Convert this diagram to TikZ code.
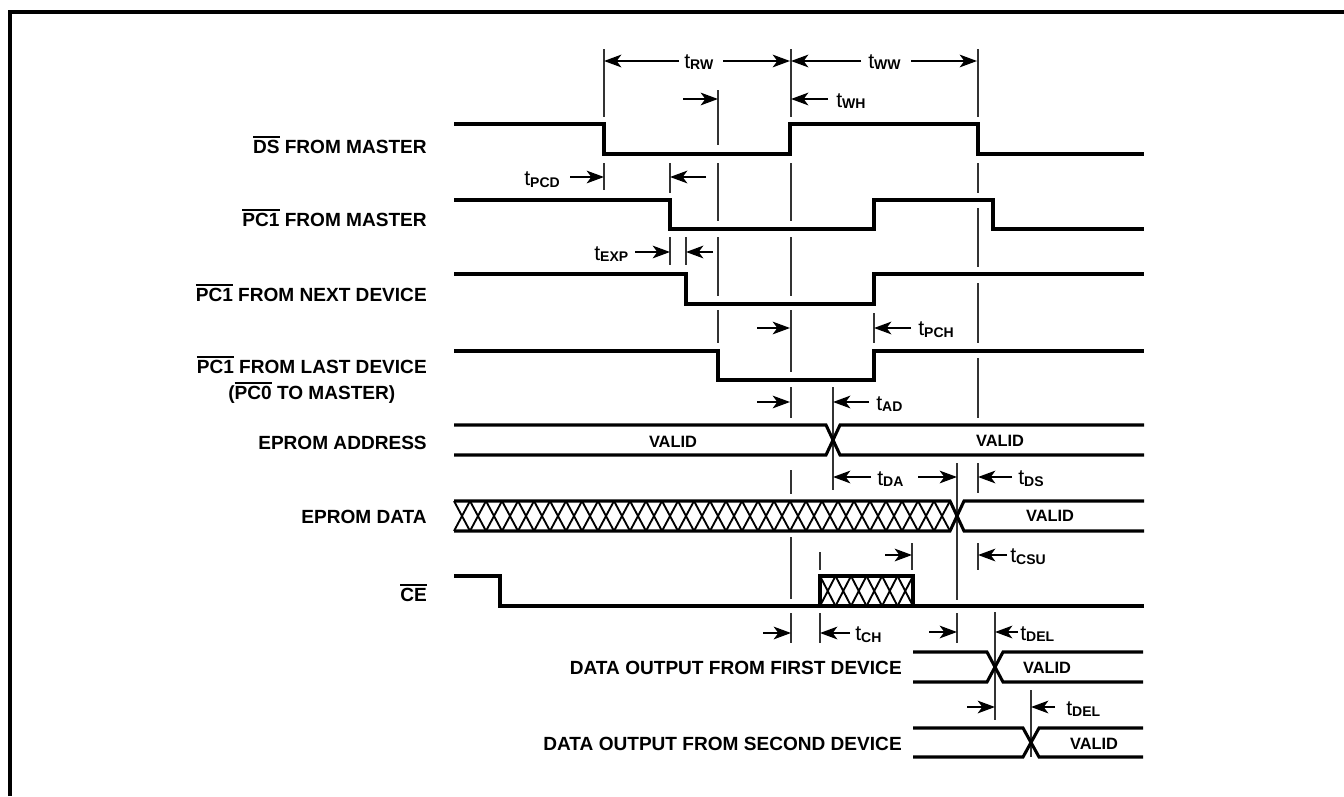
\documentclass[tikz,border=0pt]{standalone}
\usepackage{fontspec}
\setmainfont{Liberation Sans}
\usetikzlibrary{arrows.meta}
\newcommand{\ovl}[1]{\leavevmode\vbox{\hrule height 1.3pt\kern 1.6pt\hbox{#1}}}
\newcommand{\tlab}[1]{{\fontsize{16}{16}\selectfont t}\raisebox{-1.3pt}{\fontsize{10.5}{10.5}\selectfont\bfseries #1}}
\tikzset{
  sig/.style={line width=2.3pt, line join=miter, line cap=butt},
  refl/.style={line width=0.9pt, black!80},
  dimarrow/.style={line width=1.4pt, -{Stealth[length=13pt,width=9.5pt,inset=3.5pt]}},
  hatch/.style={line width=1.4pt},
  sigtext/.style={font=\fontsize{14.3}{19.5}\selectfont\bfseries, inner sep=0pt, anchor=east},
  validtext/.style={font=\fontsize{12.3}{12.3}\selectfont\bfseries, inner sep=0pt},
  tl/.style={inner sep=0pt, anchor=west}
}
\begin{document}
\begin{tikzpicture}[x=0.75pt,y=-0.75pt]
\useasboundingbox (0,0) rectangle (1344,796);
% frame
\draw[line width=2.6pt] (10,796) -- (10,12) -- (1344,12);

% reference lines
\foreach \x/\ya/\yb in {604/49/117, 604/163/190,
  670/163/193, 670/237/265, 686/237/265,
  718/90/145, 718/163/221, 718/237/296, 718/310/343,
  791/49/117, 791/163/221, 791/237/296, 791/310/372, 791/387/418, 791/470/494, 791/537/599, 791/613/643,
  820/552/570, 820/613/643, 833/387/490, 874/313/343, 912/543/570,
  957/463/600, 957/613/643,
  978/49/117, 978/163/193, 978/208/267, 978/283/343, 978/358/418, 978/463/493, 978/543/570,
  995/612/720, 1031/690/757}
  \draw[refl] (\x,\ya) -- (\x,\yb);

% signals
\draw[sig] (454,124) -- (604,124) -- (604,154) -- (790,154) -- (790,124) -- (978,124) -- (978,154) -- (1144,154);
\draw[sig] (454,200) -- (670,200) -- (670,229) -- (874,229) -- (874,200) -- (993,200) -- (993,229) -- (1144,229);
\draw[sig] (454,274) -- (686,274) -- (686,304) -- (874,304) -- (874,274) -- (1144,274);
\draw[sig] (454,351) -- (718,351) -- (718,380) -- (874,380) -- (874,351) -- (1144,351);
% address bus
\draw[sig] (454,425) -- (826,425) -- (840,455) -- (1144,455);
\draw[sig] (454,455) -- (826,455) -- (840,425) -- (1144,425);
% data bus
\draw[sig] (454,501) -- (950,501) -- (964,531) -- (1144,531);
\draw[sig] (454,531) -- (950,531) -- (964,501) -- (1144,501);
\foreach \k in {0,...,30}
  \draw[hatch] ({454+\k*16},501) -- ({454+(\k+1)*16},531) ({454+(\k+1)*16},501) -- ({454+\k*16},531);
% CE
\draw[sig] (454,576) -- (500,576) -- (500,606) -- (1144,606);
\foreach \k in {0,...,5}
  \draw[hatch] ({820+\k*15.5},576) -- ({820+(\k+1)*15.5},606) ({820+(\k+1)*15.5},576) -- ({820+\k*15.5},606);
\draw[sig] (820,576) rectangle (913,606);
% first device
\draw[sig] (913,652) -- (987,652) -- (1003,682) -- (1143,682);
\draw[sig] (913,682) -- (987,682) -- (1003,652) -- (1143,652);
% second device
\draw[sig] (913,728) -- (1023,728) -- (1039,757) -- (1143,757);
\draw[sig] (913,757) -- (1023,757) -- (1039,728) -- (1143,728);

% dimension arrows
\draw[dimarrow] (679,61) -- (604,61);
\draw[dimarrow] (723,61) -- (790,61);
\draw[dimarrow] (861,61) -- (791,61);
\draw[dimarrow] (911,61) -- (977,61);
\draw[dimarrow] (683,99) -- (718,99);
\draw[dimarrow] (828,99) -- (791,99);
\draw[dimarrow] (570,177) -- (604,177);
\draw[dimarrow] (706,177) -- (670,177);
\draw[dimarrow] (635,252) -- (670,252);
\draw[dimarrow] (713,252) -- (686,252);
\draw[dimarrow] (757,328) -- (790,328);
\draw[dimarrow] (911,328) -- (874,328);
\draw[dimarrow] (757,402) -- (790,402);
\draw[dimarrow] (869,402) -- (833,402);
\draw[dimarrow] (871,477) -- (833,477);
\draw[dimarrow] (918,477) -- (957,477);
\draw[dimarrow] (1012,477) -- (978,477);
\draw[dimarrow] (885,555) -- (912,555);
\draw[dimarrow] (1007,555) -- (978,555);
\draw[dimarrow] (763,633) -- (791,633);
\draw[dimarrow] (850,633) -- (820,633);
\draw[dimarrow] (929,632) -- (957,632);
\draw[dimarrow] (1018,632) -- (995,632);
\draw[dimarrow] (967,707) -- (995,707);
\draw[dimarrow] (1055,707) -- (1031,707);

% timing labels
\node[tl] (trw) at (684,62) {\tlab{RW}};
\node[tl] (tww) at (868,62) {\tlab{WW}};
\node[tl] (twh) at (836,101) {\tlab{WH}};
\node[tl] (tpcd) at (524,180) {\tlab{PCD}};
\node[tl] (texp) at (594,254) {\tlab{EXP}};
\node[tl] (tpch) at (918,330) {\tlab{PCH}};
\node[tl] (tad) at (876,404) {\tlab{AD}};
\node[tl] (tda) at (877,479) {\tlab{DA}};
\node[tl] (tds) at (1018,479) {\tlab{DS}};
\node[tl] (tcsu) at (1010,557) {\tlab{CSU}};
\node[tl] (tch) at (855,635) {\tlab{CH}};
\node[tl] (tdel1) at (1020,634) {\tlab{DEL}};
\node[tl] (tdel2) at (1066,709) {\tlab{DEL}};

% signal labels
\node[sigtext] (lds) at (427,145) {\ovl{DS} FROM MASTER};
\node[sigtext] (lpcm) at (427,218) {\ovl{PC1} FROM MASTER};
\node[sigtext] (lpcn) at (427,293) {\ovl{PC1} FROM NEXT DEVICE};
\node[sigtext, align=center] (lpcl) at (427,380) {\ovl{PC1} FROM LAST DEVICE\\(\ovl{PC0} TO MASTER)};
\node[sigtext] (laddr) at (427,443) {EPROM ADDRESS};
\node[sigtext] (ldata) at (427,517) {EPROM DATA};
\node[sigtext] (lce) at (427,593) {\ovl{CE}};
\node[sigtext] (lfirst) at (902,668) {DATA OUTPUT FROM FIRST DEVICE};
\node[sigtext] (lsecond) at (902,744) {DATA OUTPUT FROM SECOND DEVICE};

% VALID labels
\node[validtext] (v1) at (673,442) {VALID};
\node[validtext] (v2) at (1000,441) {VALID};
\node[validtext] (v3) at (1050,516) {VALID};
\node[validtext] (v4) at (1047,668) {VALID};
\node[validtext] (v5) at (1094,744) {VALID};
\end{tikzpicture}
\end{document}
